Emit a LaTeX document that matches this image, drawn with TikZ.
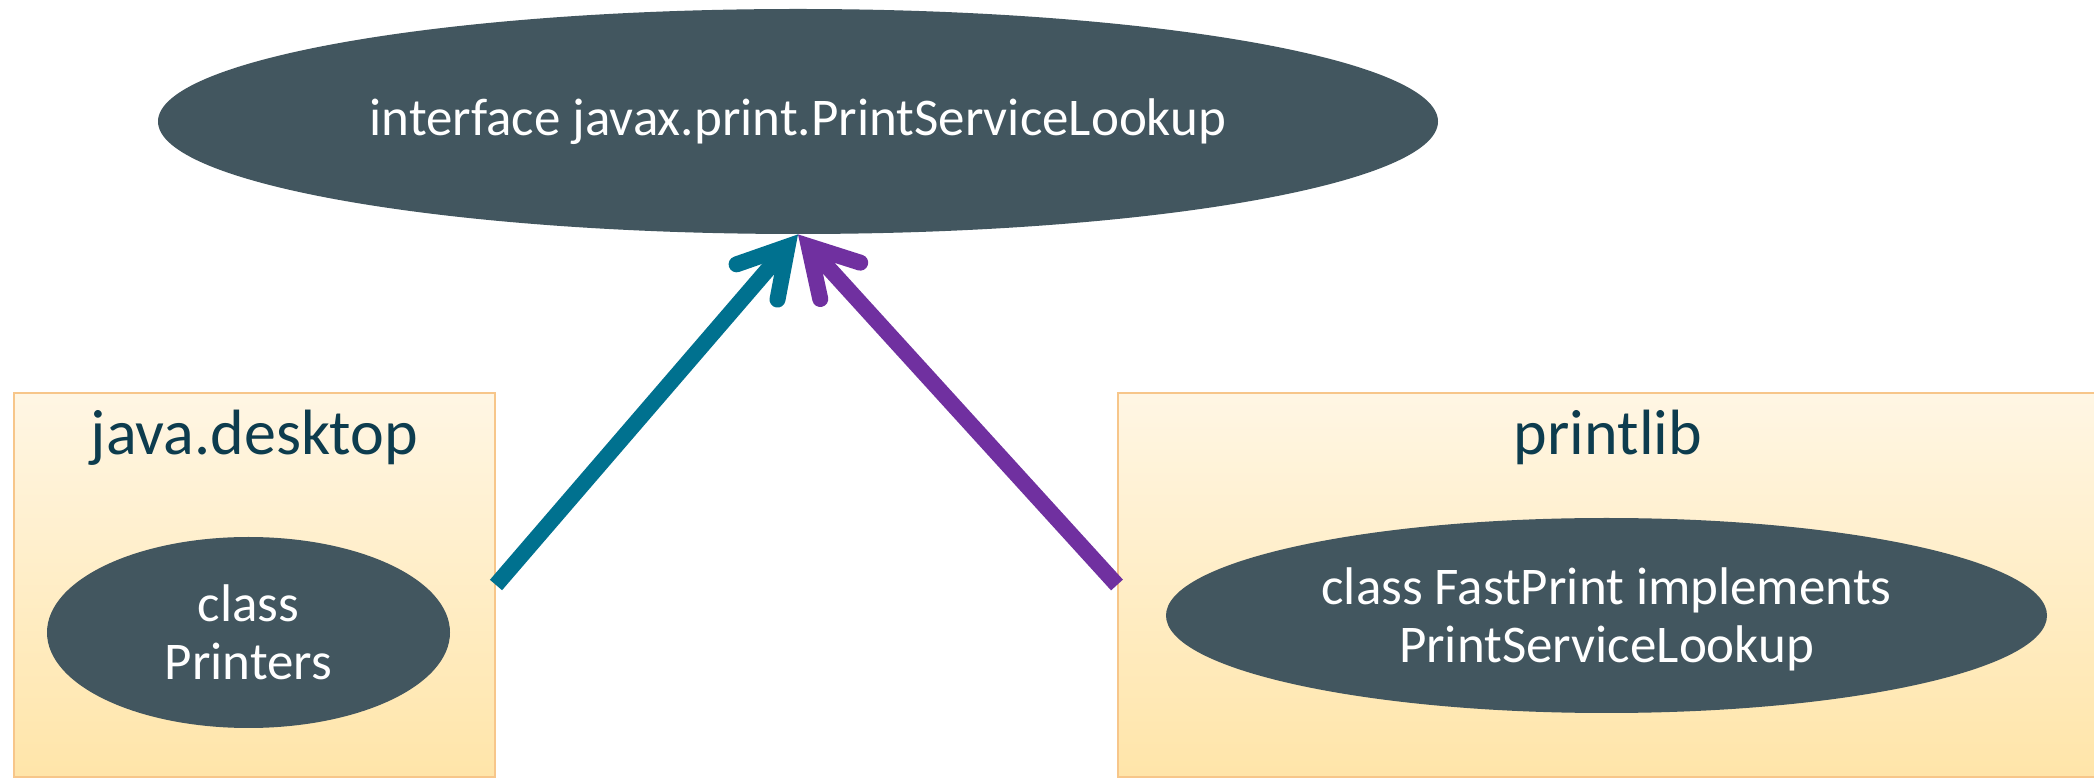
\documentclass[tikz,border=0pt]{standalone}
\usepackage{fontspec}
\setmainfont{Carlito}
\usetikzlibrary{shapes.geometric,calc}
\definecolor{ellfill}{HTML}{42565F}
\definecolor{boxtop}{HTML}{FFF6E4}
\definecolor{boxbot}{HTML}{FFE5A9}
\definecolor{boxline}{HTML}{F7C68A}
\definecolor{titletext}{HTML}{0D3C4E}
\definecolor{tealarrow}{HTML}{00718F}
\definecolor{purplearrow}{HTML}{7030A0}
\begin{document}
\begin{tikzpicture}[x=0.5pt,y=-0.5pt,
  ell/.style={ellipse, fill=ellfill, draw=none, inner sep=0pt, text=white, align=center,
    font=\fontsize{26.5}{29}\selectfont},
  elltext/.style={inner sep=0pt, text=white, align=center, font=\fontsize{26.5}{29}\selectfont},
  modbox/.style={rectangle, draw=boxline, line width=1pt, top color=boxtop, bottom color=boxbot, inner sep=0pt},
  title/.style={text=titletext, font=\fontsize{32}{35}\selectfont, inner sep=0pt},
  shaft/.style={line width=8pt, line cap=butt},
  barb/.style={line width=8pt, line cap=round, line join=miter, miter limit=10}
]
\useasboundingbox (0,0) rectangle (2094,779);
\fill[white] (0,0) rectangle (2094,779);
% boxes
\node[modbox, minimum width=240.5pt, minimum height=192pt] (lbox) at (254.5,585) {};
\node[modbox, minimum width=490pt, minimum height=192pt] (rbox) at (1608,585) {};
% titles
\node[title, anchor=base] (ltitle) at (254.5,455) {java.desktop};
\node[title, anchor=base] (rtitle) at (1608,455) {printlib};
% ellipses
\node[ell, minimum width=640pt, minimum height=112.5pt] (top) at (798,121.5) {interface javax.print.PrintServiceLookup};
\node[ell, minimum width=201.5pt, minimum height=95.5pt] (printers) at (248.5,632.5) {class\\Printers};
\node[ell, minimum width=440.5pt, minimum height=97.5pt] (fast) at (1606.5,615.5) {};
\node[elltext] (fasttext) at ([yshift=-2pt]fast.center) {class FastPrint implements\\PrintServiceLookup};
% connectors
\coordinate (tipL) at ($(top.south)!8pt!(lbox.east)$);
\coordinate (tipR) at ($(top.south)!8pt!(rbox.west)$);
\draw[shaft, tealarrow] (lbox.east) -- (tipL);
\draw[barb, tealarrow] ($(tipL)!27pt!30:(lbox.east)$) -- (tipL) -- ($(tipL)!27pt!-30:(lbox.east)$);
\draw[shaft, purplearrow] (rbox.west) -- (tipR);
\draw[barb, purplearrow] ($(tipR)!27pt!30:(rbox.west)$) -- (tipR) -- ($(tipR)!27pt!-30:(rbox.west)$);
\end{tikzpicture}
\end{document}
